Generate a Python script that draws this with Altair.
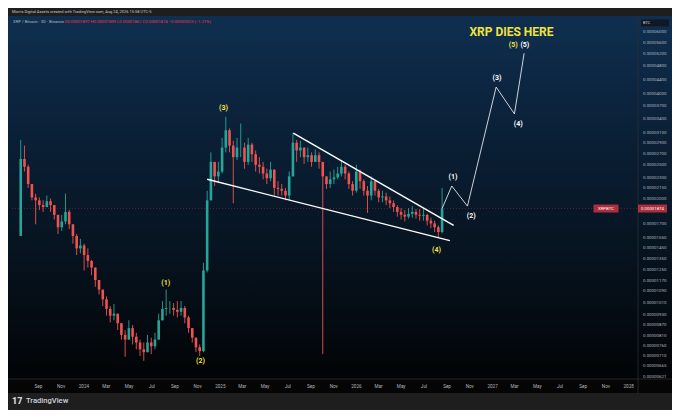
import altair as alt
import pandas as pd

# ---------------- data (prices in satoshi units, 1 sat = 0.00000001 BTC) ----------------
candle_start = "2023-07-17"
candle_step_days = 10
first_open = 1564
closes = [2597, 2468, 2202, 2016, 1978, 1917, 1892, 1966, 1917, 1798,
          1656, 1721, 1833, 1689, 1564, 1441, 1469, 1379, 1327, 1270,
          1170, 1098, 1030, 967, 925, 937, 880, 815, 790, 852,
          805, 775, 741, 727, 775, 756, 790, 897, 967, 973,
          973, 961, 949, 973, 914, 852, 800, 751, 732, 1246,
          1978, 2548, 2316, 2391, 2801, 3139, 2837, 2629, 2801, 2801,
          2548, 2855, 2680, 2500, 2468, 2360, 2288, 2422, 2147, 2133,
          2107, 2041, 2316, 2891, 2748, 2801, 2629, 2663, 2548, 2663,
          2548, 2316, 2202, 2272, 2301, 2360, 2468, 2360, 2202, 2107,
          2391, 2244, 2107, 2041, 2244, 2107, 2016, 2029, 1978, 1940,
          1892, 1833, 1798, 1776, 1810, 1833, 1798, 1787, 1798, 1730,
          1699, 1656, 1605, 1874]
highs = [2947, 2837, 2500, 2147, 2067, 2016, 1978, 2041, 2003, 1917,
         1798, 1798, 2067, 1856, 1689, 1584, 1535, 1487, 1441, 1336,
         1246, 1170, 1098, 1050, 986, 999, 937, 880, 841, 897,
         869, 826, 790, 775, 815, 800, 826, 937, 1018, 1098,
         1018, 1005, 1018, 1018, 986, 925, 852, 800, 765, 1311,
         2107, 2714, 2548, 2548, 2984, 3430, 3179, 2928, 2984, 3281,
         2891, 2984, 2891, 2748, 2629, 2548, 2437, 2548, 2316, 2244,
         2202, 2147, 2391, 3080, 2947, 2928, 2801, 2801, 2714, 2766,
         2714, 2515, 2316, 2391, 2422, 2468, 2580, 2500, 2391, 2244,
         2500, 2422, 2272, 2174, 2316, 2244, 2133, 2107, 2080, 2029,
         1978, 1917, 1880, 1856, 1880, 1904, 1867, 1867, 1880, 1810,
         1765, 1730, 1677, 2147]
lows = [1564, 2391, 2147, 1978, 1689, 1856, 1833, 1892, 1833, 1743,
        1584, 1615, 1689, 1636, 1487, 1379, 1396, 1246, 1270, 1207,
        1119, 1064, 986, 925, 885, 897, 841, 790, 705, 790,
        765, 741, 709, 687, 727, 718, 741, 790, 925, 925,
        937, 925, 914, 925, 880, 826, 775, 727, 709, 727,
        1230, 1978, 2174, 2216, 2360, 2714, 2714, 1940, 2580, 2629,
        2437, 2500, 2548, 2391, 2360, 2272, 2202, 2244, 2041, 2041,
        2041, 1978, 1978, 2316, 2548, 2629, 2515, 2548, 2468, 2548,
        2437, 718, 2133, 2147, 2202, 2272, 2316, 2272, 2133, 2041,
        2080, 2133, 2041, 1821, 1978, 2041, 1953, 1953, 1917, 1880,
        1833, 1776, 1743, 1721, 1754, 1765, 1754, 1730, 1730, 1677,
        1646, 1605, 1554, 1590]

y_tick_sats = [6000, 5600, 5200, 4800, 4400, 4000, 3700, 3400, 3100, 2900,
               2700, 2500, 2300, 2150, 2000, 1700, 1550, 1450, 1350, 1250,
               1170, 1090, 1010, 930, 870, 810, 760, 710, 665, 621]
x_tick_dates = ["2023-09-01", "2023-11-01", "2024-01-01", "2024-03-01", "2024-05-01",
                "2024-07-01", "2024-09-01", "2024-11-01", "2025-01-01", "2025-03-01",
                "2025-05-01", "2025-07-01", "2025-09-01", "2025-11-01", "2026-01-01",
                "2026-03-01", "2026-05-01", "2026-07-01", "2026-09-01", "2026-11-01",
                "2027-01-01", "2027-03-01", "2027-05-01", "2027-07-01", "2027-09-01",
                "2027-11-01", "2028-01-01"]
x_domain = ["2023-07-07", "2028-01-14"]
y_domain_sats = [609.3, 6665]

wave_text = ["(1)", "(2)", "(3)", "(4)", "(5)", "(1)", "(2)", "(3)", "(4)", "(5)"]
wave_date = ["2024-08-09", "2024-11-10", "2025-01-11", "2026-08-05", "2027-02-27",
             "2026-09-18", "2026-11-06", "2027-01-14", "2027-03-12", "2027-03-30"]
wave_sats = [1148, 687, 3631, 1423, 5513, 2302, 1787, 4416, 3281, 5513]
wave_kind = ["done"] * 5 + ["proj"] * 5

proj_date = ["2026-08-20", "2026-09-15", "2026-10-27", "2027-01-12", "2027-03-02", "2027-03-28"]
proj_sats = [1874, 2174, 1904, 4173, 3496, 5210]

wedge_d1 = ["2024-11-28", "2025-07-17"]
wedge_p1 = [2272, 3080]
wedge_d2 = ["2026-09-10", "2026-09-20"]
wedge_p2 = [1516, 1677]

headline = "XRP DIES HERE"
headline_date = "2027-02-22"
headline_sats = 5986

last_price_sats = 1874
header1 = "Morris Digital Assets created with TradingView.com, Aug 24, 2026 15:58 UTC-5"
header2a = "XRP / Bitcoin · 3D · Binance"
header2b = "O0.00001897  H0.00001899  L0.00001861  C0.00001874  −0.00000023 (−1.21%)"

# ---------------- styles ----------------
UP, DOWN = "#26a69a", "#ef5350"
YELLOW, WHITE = "#f2e33c", "#ffffff"
LABEL = "#b2b5be"
FONT = "Roboto"
SAT = 1e-8
W, H = 626, 363

opens = [first_open] + closes[:-1]
dates = pd.date_range(candle_start, periods=len(closes), freq=f"{candle_step_days}D").strftime("%Y-%m-%d")
df = pd.DataFrame({"date": dates,
                   "open": [v * SAT for v in opens],
                   "close": [v * SAT for v in closes],
                   "high": [v * SAT for v in highs],
                   "low": [v * SAT for v in lows]})
df["high"] = df[["open", "close", "high"]].max(axis=1)
df["low"] = df[["open", "close", "low"]].min(axis=1)


def ms(d):
    return int(pd.Timestamp(d).value // 10**6)


x_scale = alt.Scale(type="utc", domain=[ms(d) for d in x_domain])
y_scale = alt.Scale(type="log", domain=[v * SAT for v in y_domain_sats], nice=False, zero=False)
x_axis = alt.Axis(values=[ms(d) for d in x_tick_dates],
                  labelExpr="utcFormat(datum.value,'%m')=='01' ? utcFormat(datum.value,'%Y') : utcFormat(datum.value,'%b')",
                  labelFontSize=4.6, labelColor=LABEL, labelFont=FONT, ticks=False, tickSize=0,
                  domain=False, grid=False, labelPadding=7, labelBaseline="middle",
                  labelFlush=False, labelOverlap=False, title=None, zindex=1)
y_axis = alt.Axis(orient="right", values=[v * SAT for v in y_tick_sats], format=".8f",
                  labelFontSize=4.4, labelColor=LABEL, labelFont=FONT, ticks=False, tickSize=0,
                  domain=False, grid=False, labelPadding=4.5, labelBaseline="middle",
                  labelOverlap=False, labelFlush=False, title=None, zindex=1)


def X(f="date"):
    return alt.X(f"{f}:T", scale=x_scale, axis=x_axis)


def Y(f):
    return alt.Y(f"{f}:Q", scale=y_scale, axis=y_axis)


grad = alt.LinearGradient(gradient="linear",
                          stops=[alt.GradientStop(color="#0f2f50", offset=0),
                                 alt.GradientStop(color="#0a1f35", offset=0.35),
                                 alt.GradientStop(color="#06111c", offset=0.7),
                                 alt.GradientStop(color="#020406", offset=1)],
                          x1=0, x2=0, y1=0, y2=1)

deco = alt.Chart(pd.DataFrame({"a": [0]}))
bg_main = deco.mark_rect(color=grad).encode(x=alt.value(-4), x2=alt.value(W), y=alt.value(0), y2=alt.value(H))
bg_axis = deco.mark_rect(color=grad).encode(x=alt.value(W), x2=alt.value(W + 34), y=alt.value(0), y2=alt.value(H))
bg_xband = deco.mark_rect(color="#050505").encode(x=alt.value(-4), x2=alt.value(W + 34), y=alt.value(H), y2=alt.value(H + 14))
sep_v = deco.mark_rule(color="#2a2e39", strokeWidth=0.8).encode(x=alt.value(W), y=alt.value(0), y2=alt.value(H + 14))
sep_h = deco.mark_rule(color="#2a2e39", strokeWidth=0.8).encode(x=alt.value(-4), x2=alt.value(W + 34), y=alt.value(H))
btc_box = deco.mark_rect(color="#131722").encode(x=alt.value(629), x2=alt.value(657), y=alt.value(3.5), y2=alt.value(10.3))
btc_txt = deco.mark_text(text="BTC", align="left", baseline="middle", fontSize=4, color="#d1d4dc", font=FONT).encode(
    x=alt.value(631), y=alt.value(7))

h1 = deco.mark_text(text=header1, align="left", baseline="middle", fontSize=4, color="#c8cad0", font=FONT).encode(
    x=alt.value(0), y=alt.value(-4.2))
h2a = deco.mark_text(text=header2a, align="left", baseline="middle", fontSize=4.2, color=LABEL, font=FONT).encode(
    x=alt.value(1), y=alt.value(5.5))
h2b = deco.mark_text(text=header2b, align="left", baseline="middle", fontSize=4.2, color="#f23645", font=FONT).encode(
    x=alt.value(52.5), y=alt.value(5.5))
logo = deco.mark_text(text="17", align="left", baseline="middle", fontSize=9, fontWeight=900, color="#d1d4dc", font=FONT).encode(
    x=alt.value(0), y=alt.value(384.5))
logo_txt = deco.mark_text(text="TradingView", align="left", baseline="middle", fontSize=7.6, fontWeight=500, color="#d1d4dc", font=FONT).encode(
    x=alt.value(14), y=alt.value(384.5))

tag_df = pd.DataFrame({"price": [last_price_sats * SAT], "label": [f"{last_price_sats * SAT:.8f}"], "sym": ["XRPBTC"]})
price_line = alt.Chart(tag_df).mark_rule(color="#f23645", strokeWidth=0.6, strokeDash=[1, 2], opacity=0.6).encode(
    y=Y("price"), x=alt.value(0), x2=alt.value(W))
tag1 = alt.Chart(tag_df).mark_tick(color="#f23645", thickness=8, size=29, orient="horizontal").encode(
    y=Y("price"), x=alt.value(640.5))
tag1t = alt.Chart(tag_df).mark_text(color="white", fontSize=4.3, font=FONT).encode(
    y=Y("price"), x=alt.value(640.5), text="label:N")
tag2 = alt.Chart(tag_df).mark_tick(color="#f23645", thickness=8, size=25, orient="horizontal").encode(
    y=Y("price"), x=alt.value(594))
tag2t = alt.Chart(tag_df).mark_text(color="white", fontSize=4.3, font=FONT).encode(
    y=Y("price"), x=alt.value(594), text="sym:N")

color_cond = alt.condition("datum.close >= datum.open", alt.value(UP), alt.value(DOWN))
wicks = alt.Chart(df).mark_rule(strokeWidth=0.9).encode(x=X(), y=Y("low"), y2=alt.Y2("high"), color=color_cond)
bodies = alt.Chart(df).mark_bar(size=2.6).encode(x=X(), y=Y("open"), y2=alt.Y2("close"), color=color_cond)

wedge_df = pd.DataFrame({"d1": wedge_d1, "p1": [v * SAT for v in wedge_p1],
                         "d2": wedge_d2, "p2": [v * SAT for v in wedge_p2]})
wedge = alt.Chart(wedge_df).mark_rule(color=WHITE, strokeWidth=1.4).encode(
    x=X("d1"), x2=alt.X2("d2"), y=Y("p1"), y2=alt.Y2("p2"))

proj_df = pd.DataFrame({"date": proj_date, "price": [v * SAT for v in proj_sats], "i": range(len(proj_date))})
proj = alt.Chart(proj_df).mark_line(color=WHITE, strokeWidth=0.8).encode(x=X(), y=Y("price"), order="i:Q")

wave_df = pd.DataFrame({"date": wave_date, "price": [v * SAT for v in wave_sats], "t": wave_text,
                        "c": [YELLOW if k == "done" else WHITE for k in wave_kind]})
waves = alt.Chart(wave_df).mark_text(fontSize=7, fontWeight="bold", font=FONT).encode(
    x=X(), y=Y("price"), text="t:N", color=alt.Color("c:N", scale=None))

head_df = pd.DataFrame({"date": [headline_date], "price": [headline_sats * SAT], "t": [headline]})
head = alt.Chart(head_df).mark_text(fontSize=12, fontWeight="bold", font=FONT, color=YELLOW).encode(
    x=X(), y=Y("price"), text="t:N")

chart = alt.layer(
    bg_main, bg_axis, bg_xband, sep_v, sep_h, btc_box, btc_txt, h1, h2a, h2b, logo, logo_txt,
    price_line, wicks, bodies, wedge, proj, waves, head, tag2, tag2t, tag1, tag1t
).properties(
    width=W, height=H, autosize="none",
    padding={"left": 4, "top": 8, "right": 34, "bottom": 31},
    background="#1e1e1e"
).configure_view(stroke=None)

chart.save("out.html", embed_options={"renderer": "svg", "actions": False})
